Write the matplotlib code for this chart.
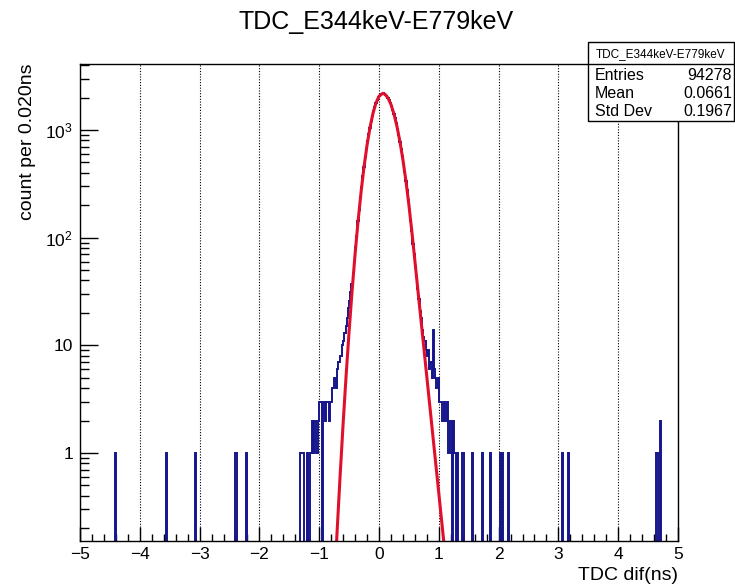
import numpy as np
import matplotlib
matplotlib.use("Agg")
import matplotlib.pyplot as plt
from matplotlib.ticker import LogLocator, NullFormatter
from matplotlib.patches import Rectangle
from matplotlib.lines import Line2D

plt.rcParams['font.family'] = ['Liberation Sans', 'DejaVu Sans']
plt.rcParams['mathtext.fontset'] = 'custom'
plt.rcParams['mathtext.rm'] = 'Liberation Sans'
plt.rcParams['mathtext.it'] = 'Liberation Sans:italic'

# histogram: 0.02 ns bins from -5 to 5
bin_width = 0.02
x_range = (-5.0, 5.0)

# dense part, bin centres -0.99 ... 1.31
core_first_center = -0.99
core_counts = [
    3, 3, 0, 3, 3, 2, 3, 3, 2, 3,
    3, 4, 5, 5, 4, 6, 7, 8, 8, 10,
    11, 13, 15, 18, 22, 26, 31, 37, 47, 60,
    81, 104, 142, 180, 238, 295, 372, 452, 560, 660,
    790, 915, 1050, 1215, 1350, 1515, 1645, 1795, 1900, 2020,
    2090, 2160, 2180, 2190, 2165, 2130, 2060, 1990, 1895, 1780,
    1670, 1545, 1405, 1280, 1150, 1015, 900, 775, 670, 578,
    482, 410, 335, 278, 222, 181, 143, 115, 88, 70,
    54, 43, 33, 27, 21, 18, 14, 12, 11, 9,
    8, 9, 6, 7, 5, 14, 6, 5, 4, 5,
    3, 3, 3, 2, 3, 2, 2, 3, 1, 2,
    2, 0, 2, 1, 0, 1,
]

# isolated entries in the tails
tail_x = [-4.41, -3.55, -3.07, -2.39, -2.21, -1.31, -1.29, -1.27, -1.19, -1.15,
          -1.13, -1.11, -1.09, -1.07, -1.05, -1.03, -1.01, 1.39, 1.41, 1.57,
          1.73, 1.87, 2.03, 2.07, 2.17, 3.07, 3.17, 4.65, 4.71]
tail_counts = [1, 1, 1, 1, 1, 1, 1, 1, 1, 1,
               1, 2, 1, 2, 1, 1, 2, 1, 1, 1,
               1, 1, 1, 1, 1, 1, 1, 1, 2]

# fitted curve
fit_x = [-0.72, -0.70, -0.65, -0.60, -0.55, -0.50, -0.45, -0.40, -0.35, -0.30,
         -0.25, -0.20, -0.15, -0.10, -0.05, 0.00, 0.062, 0.10, 0.15, 0.20,
         0.25, 0.30, 0.35, 0.40, 0.45, 0.50, 0.55, 0.60, 0.65, 0.70,
         0.75, 0.80, 0.85, 0.90, 0.95, 1.00, 1.05, 1.10]
fit_y = [0.115, 0.189, 0.618, 1.87, 5.23, 13.5, 32.0, 70.2, 142, 265,
         456, 723, 1059, 1432, 1787, 2056, 2188, 2149, 1987, 1726,
         1410, 1082, 780, 528, 337, 201, 113, 61.0, 32.7, 17.6,
         9.44, 5.07, 2.72, 1.46, 0.785, 0.422, 0.226, 0.122]

hist_name = "TDC_E344keV-E779keV"
stats_labels = ["Entries", "Mean", "Std Dev"]
stats_values = ["94278", "0.0661", "0.1967"]


def build_counts():
    nbins = int(round((x_range[1] - x_range[0]) / bin_width))
    edges = np.linspace(x_range[0], x_range[1], nbins + 1)
    counts = np.zeros(nbins)
    core_centers = core_first_center + bin_width * np.arange(len(core_counts))
    for c, n in zip(core_centers, core_counts):
        counts[int((c - x_range[0]) / bin_width)] += n
    for c, n in zip(tail_x, tail_counts):
        counts[int((c - x_range[0]) / bin_width)] += n
    return edges, counts


def main():
    W, H = 735, 584
    fig = plt.figure(figsize=(W / 100, H / 100), dpi=100)
    ax = fig.add_axes([80 / W, 1 - 541 / H, 598 / W, 477 / H])

    edges, counts = build_counts()
    vals = np.where(counts > 0, counts, 1e-3)
    ax.stairs(vals, edges, baseline=None, color='#16168c', linewidth=1.4)
    ax.plot(fit_x, fit_y, color='#e0102c', linewidth=2.2)

    ax.set_yscale('log')
    ax.set_xlim(*x_range)
    ax.set_ylim(0.152, 4100)

    ax.set_xticks(np.arange(-5, 6), labels=[str(v).replace('-', '\u2212') for v in range(-5, 6)])
    ax.set_xticks(np.arange(-5, 5.01, 0.2), minor=True)
    ax.set_yticks([1, 10, 100, 1000], labels=['1', '10', r'$10^{2}$', r'$10^{3}$'])
    ax.yaxis.set_minor_locator(LogLocator(base=10, subs=np.arange(2, 10)))
    ax.yaxis.set_minor_formatter(NullFormatter())

    ax.tick_params(axis='both', which='both', direction='in', top=False, right=False,
                   labelsize=12.5, width=1.0, color='black')
    ax.tick_params(axis='x', which='major', length=10.3, pad=4)
    ax.tick_params(axis='x', which='minor', length=5.2)
    ax.tick_params(axis='y', which='major', length=13, pad=5)
    ax.tick_params(axis='y', which='minor', length=6.5)

    for s in ax.spines.values():
        s.set_linewidth(1.0)
        s.set_color('black')

    # dotted vertical grid
    ax.grid(True, axis='x', which='major', color='black', linestyle=(0, (1, 1.5)), linewidth=0.8)
    ax.set_axisbelow(True)

    fig.text(376 / W, 1 - 22 / H, hist_name, ha='center', va='center', fontsize=18)
    fig.text(27 / W, 1 - 63 / H, 'count per 0.020ns', rotation=90, ha='center', va='top', fontsize=14)
    fig.text(678 / W, 1 - 575 / H, 'TDC dif(ns)', ha='right', va='center', fontsize=14)

    # stats box
    bx0, bx1, by0, by1 = 588, 734, 42, 121
    fig.patches.append(Rectangle((bx0 / W, 1 - by1 / H), (bx1 - bx0) / W, (by1 - by0) / H,
                                 transform=fig.transFigure, facecolor='white',
                                 edgecolor='black', linewidth=1.0, zorder=5))
    fig.lines.append(Line2D([bx0 / W, bx1 / W], [1 - 64 / H, 1 - 64 / H],
                            transform=fig.transFigure, color='black', linewidth=1.0, zorder=6))
    fig.text((bx0 + bx1) / 2 / W, 1 - 54 / H, hist_name, ha='center', va='center', fontsize=8.5, zorder=7)
    for i, (lab, val) in enumerate(zip(stats_labels, stats_values)):
        yy = 1 - (75.5 + 17.8 * i) / H
        fig.text(595 / W, yy, lab, ha='left', va='center', fontsize=11.5, zorder=7)
        fig.text(732 / W, yy, val, ha='right', va='center', fontsize=11.5, zorder=7)

    fig.savefig('out.png', dpi=100)


if __name__ == "__main__":
    main()
